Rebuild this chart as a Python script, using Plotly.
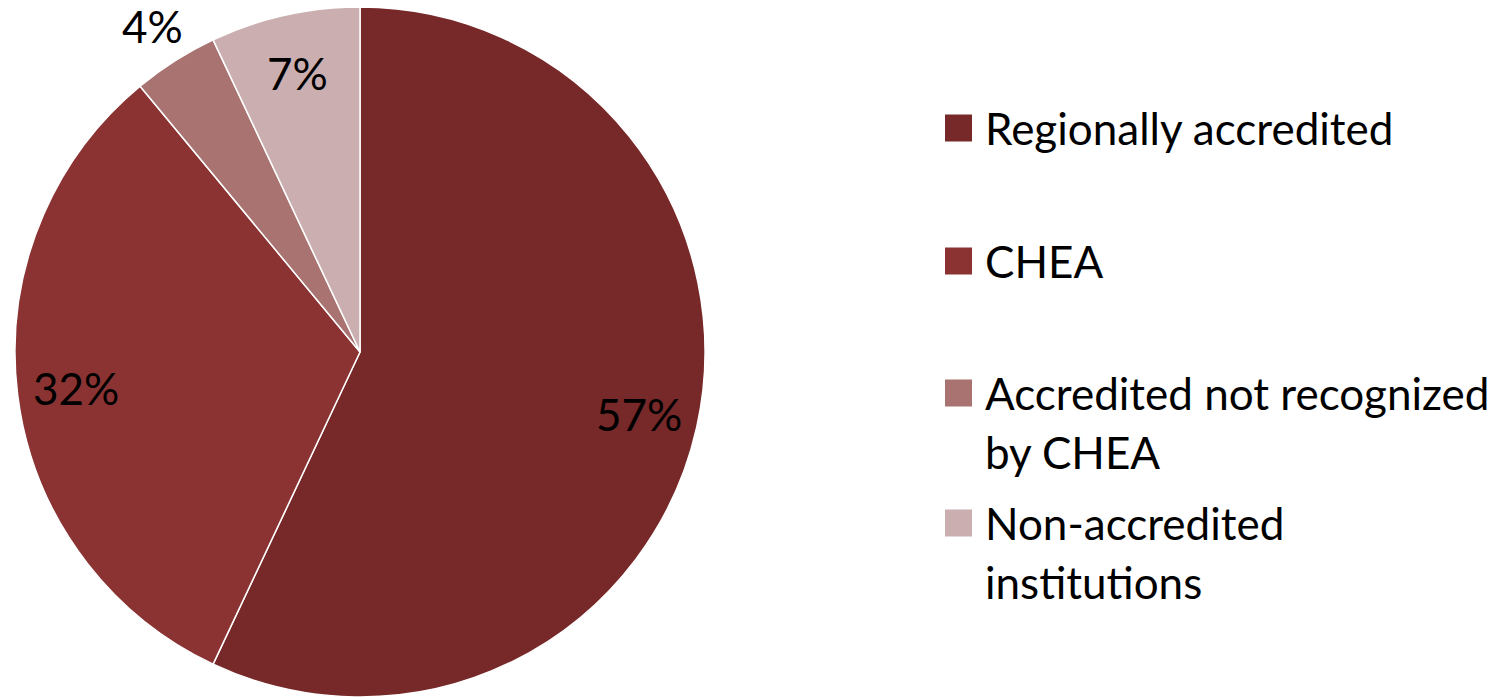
import math
import plotly.graph_objects as go

# ---- data ----
labels = ["Regionally accredited", "CHEA", "Accredited not recognized<br>by CHEA", "Non-accredited<br>institutions"]
values = [57, 32, 4, 7]
colors = ["#772828", "#8B3333", "#A87370", "#CBAEB0"]
label_outside = [False, False, True, False]

# ---- layout constants ----
W, H = 1510, 697
FONT = "Lato"
FS = 44
pie_dom_x = [0.00993, 0.4669]
pie_dom_y = [0.0, 0.99]

fig = go.Figure(go.Pie(
    labels=labels,
    values=values,
    sort=False,
    direction="clockwise",
    rotation=0,
    marker=dict(colors=colors, line=dict(color="white", width=1.5)),
    textinfo="none",
    domain=dict(x=pie_dom_x, y=pie_dom_y),
    hoverinfo="label+percent",
    showlegend=False,
))

# pie geometry in pixels (plotly fits the pie into the domain)
dw = (pie_dom_x[1] - pie_dom_x[0]) * W
dh = (pie_dom_y[1] - pie_dom_y[0]) * H
R = min(dw, dh) / 2
cx = (pie_dom_x[0] + pie_dom_x[1]) / 2 * W
cy = H - (pie_dom_y[0] + pie_dom_y[1]) / 2 * H

annotations = []
total = sum(values)
cum = 0
for v, out in zip(values, label_outside):
    mid = (cum + v / 2) / total * 2 * math.pi
    cum += v
    rf = 1.12 if out else 0.83
    px = cx + rf * R * math.sin(mid)
    py = cy - rf * R * math.cos(mid)
    annotations.append(dict(
        x=px / W, y=1 - py / H, xref="paper", yref="paper",
        text=f"{round(v / total * 100)}%", showarrow=False,
        xanchor="center", yanchor="middle",
        font=dict(family=FONT, size=FS, color="black"),
    ))

# custom legend (large square swatches, Excel-like spacing)
legend_line1_y = [128, 261, 393, 523]
line_gap = 59
sw_x0, sw_size = 945, 27
text_x = 983
shapes = []
for lab, col, y0 in zip(labels, colors, legend_line1_y):
    shapes.append(dict(
        type="rect", xref="paper", yref="paper",
        x0=sw_x0 / W, x1=(sw_x0 + sw_size) / W,
        y0=1 - (y0 + sw_size / 2) / H, y1=1 - (y0 - sw_size / 2) / H,
        fillcolor=col, line=dict(width=0),
    ))
    for k, line in enumerate(lab.split("<br>")):
        annotations.append(dict(
            x=text_x / W, y=1 - (y0 + k * line_gap) / H,
            xref="paper", yref="paper", text=line, showarrow=False,
            xanchor="left", yanchor="middle",
            font=dict(family=FONT, size=FS, color="black"),
        ))

fig.update_layout(
    width=W, height=H,
    margin=dict(l=0, r=0, t=0, b=0),
    paper_bgcolor="white",
    font=dict(family=FONT, size=FS, color="black"),
    annotations=annotations,
    shapes=shapes,
)

fig.write_html(
    "out.html",
    config={"displayModeBar": False},
    post_script="document.body.style.margin='0';document.body.style.overflow='hidden';",
)
